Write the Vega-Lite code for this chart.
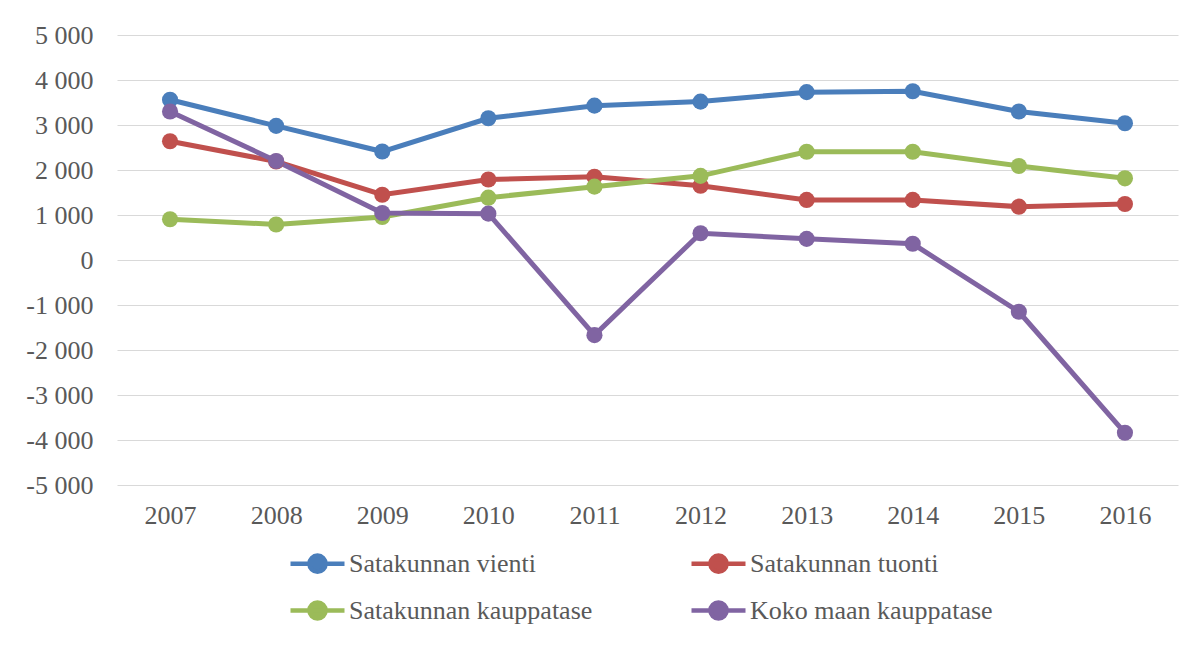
{
  "$schema": "https://vega.github.io/schema/vega-lite/v6.json",
  "width": 1061,
  "height": 450,
  "autosize": {"type": "none"},
  "padding": {"left": 117, "top": 35, "right": 20, "bottom": 160},
  "background": "white",
  "config": {
    "font": "'Liberation Serif', 'Times New Roman', serif",
    "view": {"stroke": null},
    "axis": {"labelFont": "'Liberation Serif', 'Times New Roman', serif", "labelColor": "#595959", "labelFontSize": 26}
  },
  "data": {
    "values": [
      {"year": "2007", "series": "Satakunnan vienti", "value": 3560},
      {"year": "2008", "series": "Satakunnan vienti", "value": 2980},
      {"year": "2009", "series": "Satakunnan vienti", "value": 2410},
      {"year": "2010", "series": "Satakunnan vienti", "value": 3150},
      {"year": "2011", "series": "Satakunnan vienti", "value": 3430},
      {"year": "2012", "series": "Satakunnan vienti", "value": 3520},
      {"year": "2013", "series": "Satakunnan vienti", "value": 3730},
      {"year": "2014", "series": "Satakunnan vienti", "value": 3750},
      {"year": "2015", "series": "Satakunnan vienti", "value": 3300},
      {"year": "2016", "series": "Satakunnan vienti", "value": 3040},
      {"year": "2007", "series": "Satakunnan tuonti", "value": 2640},
      {"year": "2008", "series": "Satakunnan tuonti", "value": 2190},
      {"year": "2009", "series": "Satakunnan tuonti", "value": 1450},
      {"year": "2010", "series": "Satakunnan tuonti", "value": 1790},
      {"year": "2011", "series": "Satakunnan tuonti", "value": 1850},
      {"year": "2012", "series": "Satakunnan tuonti", "value": 1650},
      {"year": "2013", "series": "Satakunnan tuonti", "value": 1335},
      {"year": "2014", "series": "Satakunnan tuonti", "value": 1335},
      {"year": "2015", "series": "Satakunnan tuonti", "value": 1185},
      {"year": "2016", "series": "Satakunnan tuonti", "value": 1245},
      {"year": "2007", "series": "Satakunnan kauppatase", "value": 905},
      {"year": "2008", "series": "Satakunnan kauppatase", "value": 790},
      {"year": "2009", "series": "Satakunnan kauppatase", "value": 955},
      {"year": "2010", "series": "Satakunnan kauppatase", "value": 1385},
      {"year": "2011", "series": "Satakunnan kauppatase", "value": 1630},
      {"year": "2012", "series": "Satakunnan kauppatase", "value": 1870},
      {"year": "2013", "series": "Satakunnan kauppatase", "value": 2405},
      {"year": "2014", "series": "Satakunnan kauppatase", "value": 2405},
      {"year": "2015", "series": "Satakunnan kauppatase", "value": 2090},
      {"year": "2016", "series": "Satakunnan kauppatase", "value": 1815},
      {"year": "2007", "series": "Koko maan kauppatase", "value": 3300},
      {"year": "2008", "series": "Koko maan kauppatase", "value": 2200},
      {"year": "2009", "series": "Koko maan kauppatase", "value": 1045},
      {"year": "2010", "series": "Koko maan kauppatase", "value": 1030},
      {"year": "2011", "series": "Koko maan kauppatase", "value": -1670},
      {"year": "2012", "series": "Koko maan kauppatase", "value": 595},
      {"year": "2013", "series": "Koko maan kauppatase", "value": 470},
      {"year": "2014", "series": "Koko maan kauppatase", "value": 360},
      {"year": "2015", "series": "Koko maan kauppatase", "value": -1150},
      {"year": "2016", "series": "Koko maan kauppatase", "value": -3840}
    ]
  },
  "encoding": {
    "x": {
      "field": "year", "type": "ordinal",
      "scale": {"type": "point", "padding": 0.5},
      "axis": {"title": null, "labelAngle": 0, "ticks": false, "domain": false, "grid": false, "labelPadding": 17}
    },
    "y": {
      "field": "value", "type": "quantitative",
      "scale": {"domain": [-5000, 5000], "nice": false, "zero": false},
      "axis": {
        "title": null, "values": [-5000, -4000, -3000, -2000, -1000, 0, 1000, 2000, 3000, 4000, 5000],
        "ticks": false, "domain": false, "grid": true, "gridColor": "#d9d9d9", "gridWidth": 1.2,
        "labelPadding": 24,
        "labelExpr": "replace(replace(format(datum.value, ','), ',', ' '), '\u2212', '-')"
      }
    },
    "color": {
      "field": "series", "type": "nominal",
      "sort": ["Satakunnan vienti", "Satakunnan tuonti", "Satakunnan kauppatase", "Koko maan kauppatase"],
      "scale": {
        "domain": ["Satakunnan vienti", "Satakunnan tuonti", "Satakunnan kauppatase", "Koko maan kauppatase"],
        "range": ["#4a7ebb", "#c0504d", "#9bbb59", "#8064a2"]
      },
      "legend": {
        "title": null, "orient": "none", "legendX": 171, "legendY": 499,
        "direction": "horizontal", "columns": 2, "columnPadding": 89, "rowPadding": -16,
        "symbolType": "M-1,0H1M-0.3,0A0.3,0.3 0 1,1 0.3,0A0.3,0.3 0 1,1 -0.3,0Z",
        "symbolSize": 2916, "symbolStrokeWidth": 4.5, "labelOffset": 2,
        "labelFont": "'Liberation Serif', 'Times New Roman', serif", "labelFontSize": 26, "labelColor": "#595959",
        "labelLimit": 400,
        "encode": {"symbols": {"update": {"fill": {"scale": "color", "field": "value"}, "stroke": {"scale": "color", "field": "value"}, "opacity": {"value": 1}}}}
      }
    }
  },
  "layer": [
    {"mark": {"type": "line", "strokeWidth": 5}},
    {"mark": {"type": "point", "filled": true, "size": 260, "opacity": 1}}
  ]
}
